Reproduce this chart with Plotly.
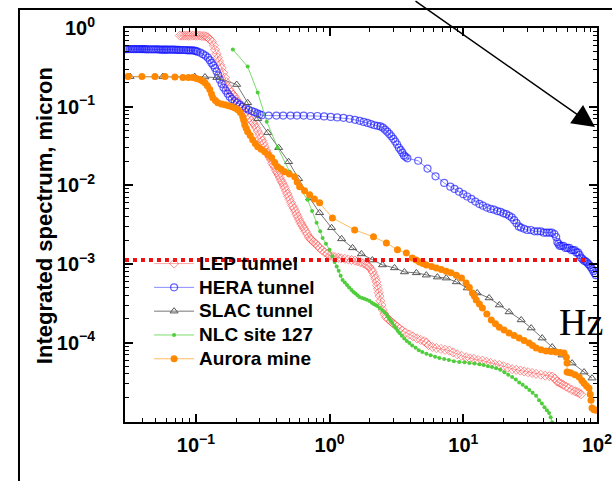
import plotly.graph_objects as go

# ---------------- data ----------------
lep_f = [0.076,0.079,0.082,0.085,0.088,0.091,0.095,0.099,0.103,0.107,0.111,0.115,0.119,0.123,
         0.127,0.132,0.136,0.139,0.143,0.146,0.149,0.152,0.156,0.160,0.165,0.169,0.173,0.178,0.184,0.19,
         0.195,0.20,0.206,0.213,0.22,0.228,0.236,0.244,0.252,0.26,0.268,0.275,0.282,0.29,0.30,0.307,
         0.313,0.32,0.327,0.335,0.342,0.35,0.357,0.365,0.373,0.381,0.389,0.397,0.406,0.415,0.424,0.433,
         0.443,0.452,0.462,0.472,0.482,0.492,0.503,0.515,0.527,0.54,0.553,0.565,0.577,0.59,0.603,0.616,
         0.629,0.645,0.662,0.68,0.70,0.717,0.734,0.76,0.79,0.815,0.842,0.88,0.92,0.96,1.0,1.05,1.1,1.16,
         1.22,1.3,1.38,1.46,1.55,1.62,1.70,1.78,1.86,1.93,1.99,2.05,2.1,2.16,2.2,2.24,2.27,2.3,2.33,2.36,
         2.4,2.44,2.5,2.57,2.65,2.75,2.85,2.95,3.05,3.2,3.35,3.5,3.7,3.95,4.2,4.5,4.8,5.1,5.29,5.5,5.87,
         6.3,6.8,7.3,7.87,8.4,9.0,9.7,10.5,11.2,12.0,12.9,13.9,14.9,16.0,17.2,18.6,20,21.5,23.2,24.9,
         26.7,28.5,30.5,32.7,35,38,41,44,46.2,48.5,50.3,52,54,56,58.7,61.5,65,68.5,71,73.5,76]
lep_v = [0.80,0.80,0.80,0.80,0.80,0.80,0.80,0.80,0.80,0.80,0.79,0.79,0.78,0.76,
         0.72,0.67,0.60,0.53,0.47,0.42,0.38,0.34,0.31,0.27,0.234,0.205,0.18,0.165,0.152,0.142,
         0.134,0.124,0.115,0.106,0.098,0.091,0.085,0.079,0.072,0.066,0.062,0.059,0.054,0.049,0.044,0.040,
         0.037,0.034,0.031,0.028,0.026,0.024,0.0225,0.021,0.019,0.018,0.0168,0.0155,0.0145,0.0135,0.0125,0.0116,
         0.0108,0.010,0.0093,0.0085,0.0078,0.0072,0.0066,0.0060,0.0055,0.0051,0.0047,0.0043,0.0040,0.0037,0.0034,0.0032,
         0.0030,0.0028,0.0026,0.0024,0.0022,0.0021,0.0020,0.0019,0.0018,0.0017,0.0016,0.0015,0.0014,0.00135,0.00128,0.00125,0.00122,0.0012,
         0.00118,0.00116,0.00114,0.00112,0.0011,0.00108,0.00105,0.00102,0.00099,0.00095,0.00091,0.00085,0.00079,0.00071,0.00065,0.00059,0.00053,0.00048,0.00043,0.00039,
         0.00034,0.00030,0.00026,0.00023,0.00021,0.000198,0.000188,0.000179,0.00017,0.00016,0.00015,0.000142,0.000134,0.000127,0.00012,0.000113,0.000108,0.000104,0.0001,0.000093,0.000088,
         0.000085,0.000083,0.000081,0.000079,0.000075,0.000071,0.000068,0.000065,0.000063,0.000062,0.00006,0.000059,0.000057,0.000055,0.000053,0.000052,0.00005,0.000048,0.000046,0.000045,
         0.000044,0.000043,0.000042,0.000041,0.00004,0.000039,0.000038,0.0000375,0.000037,0.000035,0.000032,0.000031,0.00003,0.000029,0.0000275,0.0000265,0.000025,0.000024,0.0000235,0.0000228,0.000022]

hera_f = [0.0295,0.0303,0.031,0.032,0.033,0.034,0.035,0.036,0.037,0.038,0.039,0.040,0.041,0.042,0.043,0.0445,0.046,
          0.0475,0.049,0.0505,0.052,0.0535,0.055,0.0565,0.058,0.0595,0.061,0.063,0.065,0.067,0.069,0.071,0.073,0.075,0.077,
          0.0795,0.082,0.0845,0.087,0.0895,0.092,0.095,0.098,0.1005,0.103,0.108,0.113,0.118,0.123,0.127,0.131,0.135,0.139,0.143,0.147,0.151,0.156,0.161,
          0.167,0.173,0.179,0.186,0.195,0.203,0.213,0.224,0.237,0.249,0.262,0.275,0.288,0.30,0.311,
          0.35,0.40,0.45,0.51,0.57,0.64,0.72,0.81,0.91,1.02,1.14,1.27,1.41,1.55,1.68,1.80,1.92,2.04,2.16,2.28,
          2.40,2.50,2.60,2.70,2.80,2.90,3.00,3.10,3.20,3.30,3.40,3.50,3.60,3.70,3.82,
          4.6,5.4,6.2,7.2,8.0,8.6,9.3,10.0,10.7,11.5,12.3,13.2,14.0,15.0,16.0,17.0,18.0,19.0,20.0,21.0,22.0,23.0,
          24.0,25.0,26.0,27.0,28.5,30,32,34,36,38,40,42,44,46,48,49.5,50.5,51.5,52.5,54,56,58,60,62,64,66,68,70,
          72,74,76,78,80,82,84,86,88,90,92,94,96,98]
hera_v = [0.54,0.54,0.54,0.54,0.54,0.54,0.54,0.54,0.54,0.54,0.54,0.54,0.54,0.538,0.535,0.535,0.535,
          0.535,0.535,0.535,0.535,0.532,0.53,0.53,0.53,0.53,0.53,0.53,0.53,0.53,0.53,0.528,0.528,0.526,0.525,
          0.525,0.525,0.522,0.52,0.52,0.52,0.518,0.515,0.508,0.50,0.485,0.465,0.445,0.42,0.39,0.36,0.335,0.31,0.28,0.25,0.22,0.195,0.175,
          0.16,0.146,0.134,0.125,0.118,0.112,0.106,0.100,0.095,0.091,0.088,0.085,0.082,0.080,0.078,
          0.077,0.077,0.077,0.077,0.077,0.077,0.076,0.076,0.075,0.074,0.073,0.072,0.070,0.068,0.066,0.064,0.062,0.060,0.058,0.057,
          0.056,0.054,0.051,0.048,0.045,0.042,0.039,0.036,0.033,0.030,0.028,0.026,0.024,0.023,0.022,
          0.0205,0.0163,0.0130,0.0107,0.0096,0.0090,0.0083,0.0077,0.0072,0.0067,0.0062,0.0058,0.0055,0.0052,0.0050,0.0049,0.0047,0.0046,0.0044,0.0043,0.0041,0.0039,
          0.0036,0.0033,0.0030,0.0029,0.0028,0.0027,0.0027,0.0026,0.0026,0.0026,0.0025,0.0025,0.0025,0.0025,0.0024,0.0022,0.0019,0.0018,0.0017,0.0017,0.0017,0.0016,0.0016,0.0016,0.0015,0.0015,0.0015,0.0014,
          0.0014,0.0013,0.0012,0.00115,0.0011,0.00108,0.00105,0.00100,0.00096,0.00091,0.00086,0.00081,0.00076,0.00072]

slac_f = [0.0322,0.0567,0.098,0.117,0.1435,0.202,0.244,0.290,0.345,0.416,0.494,0.587,0.709,0.842,1.035,1.23,
          1.485,1.73,2.09,2.49,3.06,3.63,4.46,5.29,6.40,7.46,8.87,10.7,12.7,15.6,18.6,22.0,27.1,32.2,38.9,
          46.2,54.8,65.1,80.0,91.8]
slac_v = [0.241,0.241,0.241,0.238,0.234,0.191,0.112,0.0703,0.0467,0.0301,0.0199,0.0121,0.0069,0.00447,0.00288,0.00208,
          0.0016,0.00134,0.00112,0.00097,0.00089,0.00079,0.00077,0.00072,0.00068,0.00066,0.00059,0.000494,0.000427,0.000369,0.0003,0.000245,0.000194,0.000153,0.000114,
          0.0000877,0.0000693,0.0000548,0.0000421,0.0000353]

nlc_f = [0.189,0.244,0.290,0.339,0.409,0.503,0.597,0.685,0.74,0.80,0.85,0.887,0.94,1.0,1.05,1.09,1.13,1.17,1.21,1.25,
         1.30,1.35,1.40,1.46,1.51,1.56,1.62,1.67,1.75,1.82,1.90,1.99,2.07,2.14,2.21,2.28,2.37,2.47,2.56,2.66,2.73,2.80,
         2.88,2.95,3.04,3.14,3.23,3.33,3.47,3.62,3.78,3.95,4.15,4.4,4.65,4.94,5.3,5.7,6.15,6.62,7.2,7.8,8.5,9.33,
         10.2,11.1,12.1,13.2,14.2,15.3,16.4,17.6,18.9,20.3,21.7,23.2,24.7,26.2,27.8,29.5,31.2,33,35,36.9,38.7,40.5,
         42.2,43.8,45,46.2]
nlc_v = [0.532,0.323,0.151,0.0644,0.0301,0.0149,0.0093,0.00653,0.0047,0.00333,0.0026,0.00214,0.0018,0.00151,0.00125,0.00106,0.00093,0.00082,0.00071,0.000625,
         0.00058,0.00054,0.0005,0.000467,0.00044,0.00042,0.0004,0.00038,0.00037,0.00036,0.00035,0.000338,0.000322,0.00031,0.0003,0.000292,0.000275,0.00026,0.000245,0.000231,0.000215,0.0002,
         0.000188,0.000177,0.000163,0.000152,0.000141,0.000132,0.000122,0.000113,0.000105,0.0000986,0.000092,0.000086,0.00008,0.0000757,0.000072,0.000069,0.000066,0.0000635,0.000062,0.00006,0.000058,0.0000565,
         0.000056,0.000055,0.000054,0.0000532,0.000052,0.00005,0.000049,0.0000473,0.000045,0.000042,0.000039,0.0000364,0.000034,0.000031,0.000029,0.0000271,0.000025,0.000023,0.000021,0.0000185,0.0000168,0.000015,
         0.0000138,0.0000127,0.0000112,0.0000097]

aur_f = [0.0311,0.0395,0.0494,0.0587,0.0697,0.080,0.088,0.095,0.101,0.107,0.112,0.117,0.122,0.127,0.131,0.134,0.14,
         0.146,0.155,0.165,0.175,0.186,0.196,0.206,0.215,0.224,0.228,0.232,0.238,0.244,0.255,0.266,0.278,0.29,0.308,
         0.327,0.347,0.369,0.389,0.409,0.435,0.462,0.50,0.548,0.572,0.597,0.65,0.709,0.77,0.842,
         1.05,1.54,2.13,2.66,3.22,3.75,4.16,4.45,4.70,5.0,5.29,5.8,6.29,6.85,7.46,8.1,8.87,9.7,10.5,11.1,11.7,
         12.1,12.5,13.2,13.9,15.0,16.2,17.4,18.6,20.2,22.0,24.0,26.2,28.5,31.1,33,35.1,38.2,41.6,45.3,49.4,53,
         56.7,59.0,59.7,59.7,61.8,64.0,68.5,73.5,77,80.0,83.5,87.1,89,90.2,91.8,95,98.4]
aur_v = [0.241,0.241,0.241,0.241,0.238,0.234,0.234,0.234,0.228,0.221,0.212,0.202,0.185,0.165,0.145,0.130,0.12,
         0.112,0.108,0.106,0.103,0.100,0.096,0.0916,0.084,0.0746,0.067,0.059,0.053,0.048,0.043,0.038,0.034,0.0309,0.0288,
         0.0267,0.0245,0.0224,0.0195,0.0172,0.016,0.0149,0.0139,0.0128,0.011,0.0096,0.0085,0.00757,0.0067,0.00598,
         0.00385,0.00271,0.00221,0.00185,0.00151,0.00138,0.00119,0.00112,0.00106,0.00101,0.00097,0.00093,0.00089,0.00085,0.00081,0.00077,0.00072,0.00066,0.000573,0.0005,0.000427,
         0.00039,0.000348,0.00031,0.000275,0.00023,0.000194,0.000174,0.000157,0.000144,0.000132,0.000123,0.000114,0.000106,0.0000986,0.000092,0.0000851,0.000081,0.000078,0.0000768,0.0000757,0.0000745,
         0.0000735,0.000065,0.0000548,0.0000421,0.0000415,0.000041,0.000039,0.0000364,0.000033,0.0000305,0.000028,0.0000263,0.000022,0.0000185,0.0000147,0.000014,0.0000138]

limit_f = [0.0295, 87.0]
limit_v = [0.00112, 0.00112]

x_major = [0.1, 1, 10, 100]
x_major_text = ["10<sup>−1</sup>", "10<sup>0</sup>", "10<sup>1</sup>", "10<sup>2</sup>"]
y_major = [1e-4, 1e-3, 1e-2, 1e-1, 1]
y_major_text = ["10<sup>−4</sup>", "10<sup>−3</sup>", "10<sup>−2</sup>", "10<sup>−1</sup>", "10<sup>0</sup>"]
x_minor = [m * d for d in (0.01, 0.1, 1, 10) for m in range(2, 10) if 0.0295 <= m * d <= 100]
y_minor = [m * d for d in (1e-5, 1e-4, 1e-3, 1e-2, 1e-1) for m in range(2, 10)]

legend_names = ["LEP tunnel", "HERA tunnel", "SLAC tunnel", "NLC site 127", "Aurora mine"]

# ---------------- figure ----------------
FONT = "Liberation Sans, Arial, sans-serif"


def lname(s):
    return '<span style="font-size:19px"><b>' + s + '</b></span>'


fig = go.Figure()

fig.add_trace(go.Scatter(x=lep_f, y=lep_v, name=lname(legend_names[0]), mode="lines+markers",
                         line=dict(color="rgba(255,90,90,0.55)", width=1),
                         marker=dict(symbol="diamond-open", size=7, color="rgba(255,60,60,0.55)",
                                     line=dict(width=1))))
fig.add_trace(go.Scatter(x=hera_f, y=hera_v, name=lname(legend_names[1]), mode="lines+markers",
                         line=dict(color="rgba(60,60,255,0.6)", width=1),
                         marker=dict(symbol="circle-open", size=7, color="rgba(20,20,255,0.65)",
                                     line=dict(width=1.2))))
fig.add_trace(go.Scatter(x=slac_f, y=slac_v, name=lname(legend_names[2]), mode="lines+markers",
                         line=dict(color="#777777", width=1),
                         marker=dict(symbol="triangle-up-open", size=7, color="#555555",
                                     line=dict(width=1))))
fig.add_trace(go.Scatter(x=nlc_f, y=nlc_v, name=lname(legend_names[3]), mode="lines+markers",
                         line=dict(color="rgba(90,210,70,0.8)", width=1),
                         marker=dict(symbol="circle", size=4, color="rgb(80,205,60)")))
fig.add_trace(go.Scatter(x=aur_f, y=aur_v, name=lname(legend_names[4]), mode="lines+markers",
                         line=dict(color="rgba(255,170,60,0.8)", width=1),
                         marker=dict(symbol="circle", size=7, color="rgb(255,136,0)")))
fig.add_trace(go.Scatter(x=limit_f, y=limit_v, mode="lines", showlegend=False,
                         line=dict(color="#ee1111", width=4, dash="dot")))

axis_common = dict(type="log", showgrid=False, zeroline=False, showline=True, linecolor="black",
                   linewidth=2, mirror="allticks", ticks="inside", ticklen=8, tickwidth=1.5,
                   tickcolor="black", automargin=False, ticklabeloverflow="allow",
                   tickfont=dict(family=FONT, size=20, color="black", weight="bold"))

fig.update_xaxes(range=[-1.53, 2.0], tickvals=x_major, ticktext=x_major_text,
                 ticklabelstandoff=4,
                 minor=dict(tickvals=x_minor, ticks="inside", ticklen=4, tickwidth=1.2, tickcolor="black"),
                 **axis_common)
fig.update_yaxes(range=[-5.01, 0.0], tickvals=y_major, ticktext=y_major_text,
                 ticklabelstandoff=24,
                 minor=dict(tickvals=y_minor, ticks="inside", ticklen=4, tickwidth=1.2, tickcolor="black"),
                 **axis_common)

fig.update_layout(
    width=612, height=481,
    margin=dict(l=125, r=15, t=28, b=59),
    paper_bgcolor="white", plot_bgcolor="white",
    showlegend=True,
    legend=dict(x=0.051, y=0.445, xanchor="left", yanchor="top", bgcolor="rgba(0,0,0,0)",
                font=dict(family=FONT, size=16, color="black"), tracegroupgap=0, itemwidth=40),
    shapes=[dict(type="path", xref="paper", yref="paper",
                 path="M -0.2246,-0.2 L -0.2246,1.048 L 1.1,1.048",
                 line=dict(color="black", width=2))],
    annotations=[
        dict(x=-0.169, y=0.523, xref="paper", yref="paper", text="<b>Integrated spectrum, micron</b>",
             showarrow=False, textangle=-90, xanchor="center", yanchor="middle",
             font=dict(family=FONT, size=22, color="black")),
        dict(x=0.9958, y=0.7487, xref="paper", yref="paper", text="", showarrow=True,
             ax=-181, ay=-135, arrowhead=2, arrowsize=3, arrowwidth=1.5, arrowcolor="black"),
        dict(x=0.967, y=0.254, xref="paper", yref="paper", text="Hz", showarrow=False,
             font=dict(family="Liberation Serif, Times New Roman, serif", size=38, color="black"),
             xanchor="center", yanchor="middle"),
    ],
)

fig.write_html("out.html", config={"displayModeBar": False},
               post_script="document.body.style.margin='0px';document.body.style.overflow='hidden';")
